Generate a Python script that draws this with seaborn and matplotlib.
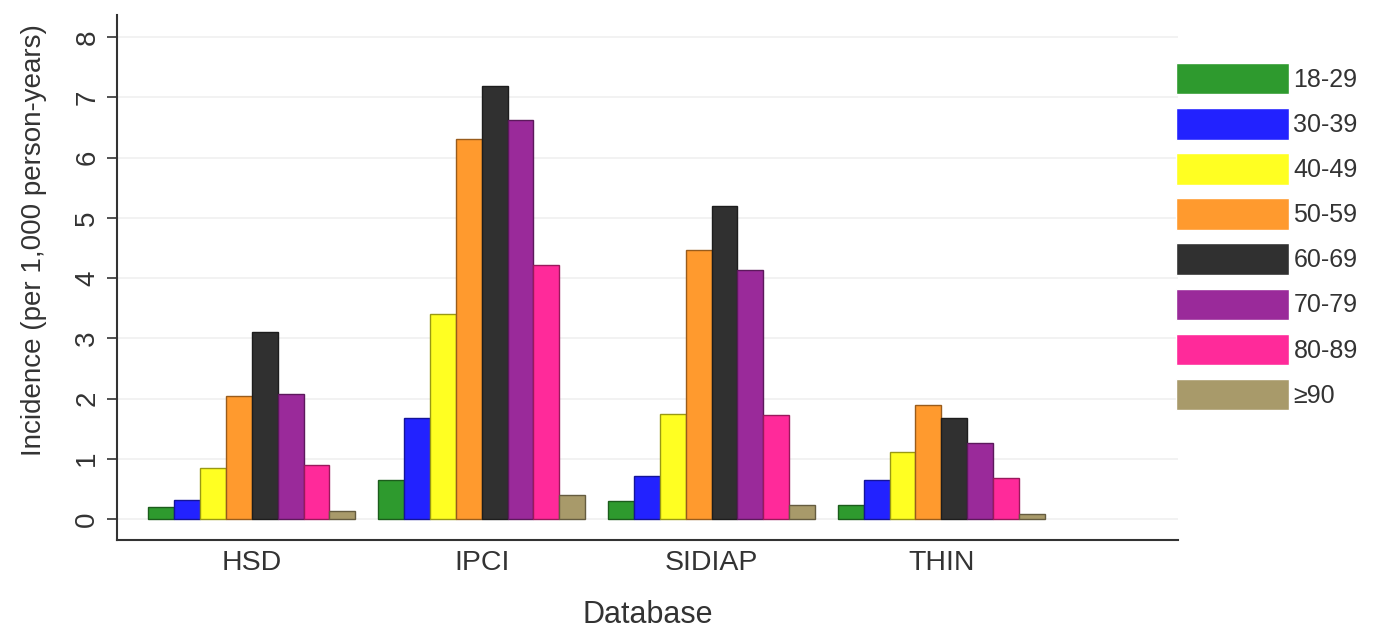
import pandas as pd
import numpy as np
import matplotlib
matplotlib.use('Agg')
import matplotlib.pyplot as plt
import matplotlib.colors as mcolors
import seaborn as sns

# Data
databases = ['HSD', 'IPCI', 'SIDIAP', 'THIN']
age_groups = ['18-29', '30-39', '40-49', '50-59', '60-69', '70-79', '80-89', '≥90']
hsd = [0.20, 0.32, 0.85, 2.05, 3.10, 2.08, 0.90, 0.13]
ipci = [0.64, 1.68, 3.40, 6.31, 7.19, 6.63, 4.22, 0.39]
sidiap = [0.29, 0.72, 1.74, 4.46, 5.19, 4.14, 1.72, 0.23]
thin = [0.23, 0.64, 1.11, 1.89, 1.67, 1.26, 0.68, 0.09]
colors = ['#2e9a2e', '#2222ff', '#ffff22', '#ff9a2e', '#303030', '#9a2a9a', '#ff2a9a', '#a89a6a']

rows = []
for db, vals in zip(databases, [hsd, ipci, sidiap, thin]):
    for age, v in zip(age_groups, vals):
        rows.append({'Database': db, 'Age': age, 'Incidence': v})
df = pd.DataFrame(rows)

sns.set_style('white')
plt.rcParams['font.family'] = ['Liberation Sans', 'DejaVu Sans']

fig = plt.figure(figsize=(13.95, 6.32), dpi=100)
ax = fig.add_axes([117 / 1395, 92 / 632, (1178 - 117) / 1395, (540 - 15) / 632])

sns.barplot(data=df, x='Database', y='Incidence', hue='Age', order=databases,
            hue_order=age_groups, palette=colors, saturation=1, width=0.9, ax=ax,
            errorbar=None, legend=True, linewidth=1)

# darker outline on each bar
for container, c in zip(ax.containers, colors):
    edge = np.array(mcolors.to_rgb(c)) * 0.6
    for bar in container:
        bar.set_edgecolor(edge)

ax.set_xlim(-0.587, 4.03)
ax.set_ylim(-0.35, 8.37)
ax.set_yticks(range(0, 9))
ax.yaxis.grid(True, color='#f0f0f0', linewidth=1.2)
ax.set_axisbelow(True)
for s in ['top', 'right']:
    ax.spines[s].set_visible(False)
for s in ['left', 'bottom']:
    ax.spines[s].set_color('#333333')
    ax.spines[s].set_linewidth(1.5)

ax.tick_params(axis='y', left=True, length=7, width=1.2, color='#333333', labelsize=20,
               pad=5, labelcolor='#333333')
ax.tick_params(axis='x', bottom=False, labelsize=20.5, pad=4, labelcolor='#333333')
for lbl in ax.get_yticklabels():
    lbl.set_rotation(90)
    lbl.set_va('center')
ax.set_xlabel('Database', fontsize=22, labelpad=17, color='#333333')
ax.set_ylabel('Incidence (per 1,000 person-years)', fontsize=20, color='#333333')
ax.yaxis.set_label_coords(-0.066, 0.571)

handles, labels = ax.get_legend_handles_labels()
ax.legend_.remove()
fig.legend(handles, labels, loc='upper left', bbox_to_anchor=(1176 / 1395, 1 - 63 / 632),
           frameon=False, fontsize=18, handlelength=4.5, handleheight=1.56,
           labelspacing=0.545, handletextpad=0.2, borderaxespad=0, borderpad=0,
           labelcolor='#333333')

fig.savefig('out.png', dpi=100)
